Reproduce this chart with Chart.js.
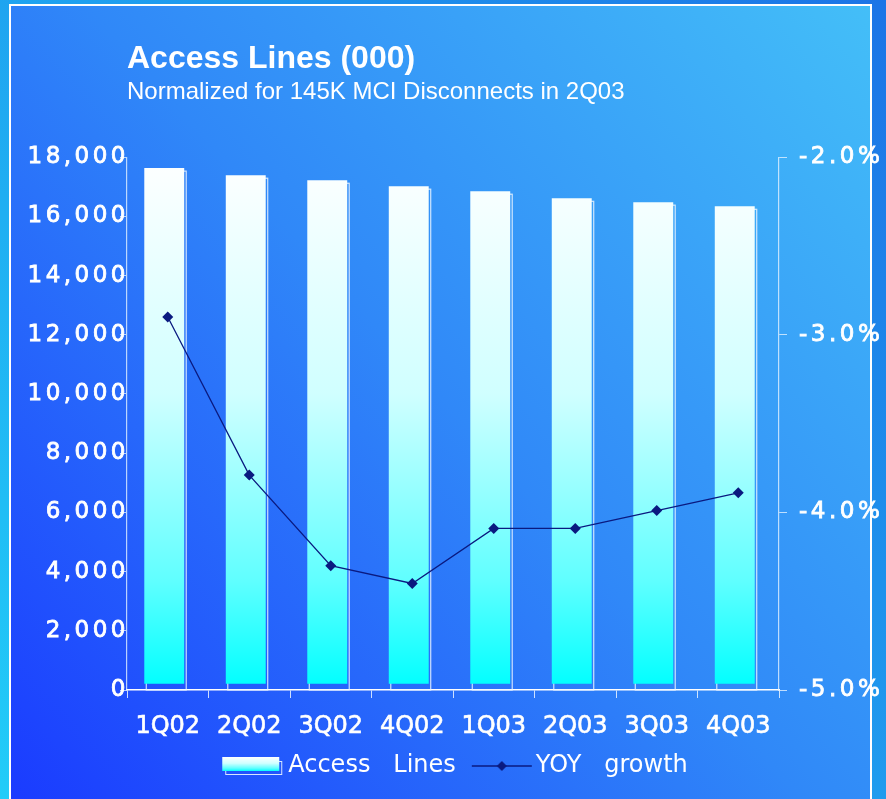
<!DOCTYPE html>
<html>
<head>
<meta charset="utf-8">
<script src="https://cdn.jsdelivr.net/npm/chart.js@4"></script>
<style>
  html, body { margin: 0; padding: 0; overflow: hidden; }
  #wrap { width: 886px; height: 799px; }
</style>
</head>
<body>
<div id="wrap"><canvas id="accessChart"></canvas></div>
<script>
const quarters = ['1Q02', '2Q02', '3Q02', '4Q02', '1Q03', '2Q03', '3Q03', '4Q03'];
const accessLines = [17530, 17290, 17120, 16920, 16750, 16510, 16380, 16240];
const yoyGrowth = [-2.90, -3.79, -4.30, -4.40, -4.09, -4.09, -3.99, -3.89];
const linesTicks = [0, 2000, 4000, 6000, 8000, 10000, 12000, 14000, 16000, 18000];
const growthTicks = [-5, -4, -3, -2];

Chart.defaults.font.family = 'DejaVu Sans';
Chart.defaults.color = '#ffffff';

function barGradient(ctx, top, bottom) {
  const g = ctx.createLinearGradient(0, top, 0, bottom);
  g.addColorStop(0, '#ffffff');
  g.addColorStop(0.45, '#d0ffff');
  g.addColorStop(0.8, '#60ffff');
  g.addColorStop(1, '#00ffff');
  return g;
}

// legend swatches (drawn off to the right of the box centre so text sits close)
function barSwatch() {
  const c = document.createElement('canvas');
  c.width = 78; c.height = 20;
  const x = c.getContext('2d');
  x.strokeStyle = 'rgba(235,245,255,0.9)';
  x.lineWidth = 1;
  x.strokeRect(17.5, 5.5, 56, 13);
  x.fillStyle = barGradient(x, 1, 15);
  x.fillRect(14, 1, 57, 14);
  return c;
}
function lineSwatch() {
  const c = document.createElement('canvas');
  c.width = 80; c.height = 16;
  const x = c.getContext('2d');
  x.strokeStyle = '#0a1a80';
  x.lineWidth = 1.3;
  x.beginPath(); x.moveTo(17, 8); x.lineTo(77, 8); x.stroke();
  x.fillStyle = '#0a1a80';
  x.beginPath(); x.moveTo(47, 3); x.lineTo(52, 8); x.lineTo(47, 13); x.lineTo(42, 8); x.closePath(); x.fill();
  return c;
}

function spaced(scale) {
  if (scale._spaced) return;
  const orig = scale.drawLabels;
  scale.drawLabels = function (area) {
    this.ctx.letterSpacing = '3.5px';
    orig.call(this, area);
    this.ctx.letterSpacing = '0px';
  };
  scale._spaced = true;
}

const backdrop = {
  id: 'backdrop',
  beforeDraw(chart) {
    const { ctx, width, height } = chart;
    ctx.save();
    let g = ctx.createLinearGradient(0, height, width, 0);
    g.addColorStop(0, '#22ccf8');
    g.addColorStop(1, '#1c74e6');
    ctx.fillStyle = g;
    ctx.fillRect(0, 0, width, height);
    ctx.strokeStyle = '#ffffff';
    ctx.lineWidth = 2;
    ctx.strokeRect(10, 5, 861, height + 20);
    g = ctx.createLinearGradient(0, height, width, 0);
    g.addColorStop(0, '#1a3aff');
    g.addColorStop(0.5, '#3088f8');
    g.addColorStop(1, '#44c0f8');
    ctx.fillStyle = g;
    ctx.fillRect(11, 6, 859, height);
    ctx.restore();
    ctx.letterSpacing = '0px';
  }
};

const barShadow = {
  id: 'barShadow',
  beforeDatasetDraw(chart, args) {
    if (args.meta.type !== 'bar') return;
    const ctx = chart.ctx;
    const base = chart.scales.y.getPixelForValue(0);
    ctx.save();
    ctx.strokeStyle = 'rgba(235,245,255,0.85)';
    ctx.lineWidth = 1.2;
    args.meta.data.forEach(bar => {
      ctx.strokeRect(bar.x - bar.width / 2 - 1.5, bar.y, bar.width, base - bar.y);
    });
    ctx.restore();
    ctx.save();
    ctx.translate(-3.5, -3);
  },
  afterDatasetDraw(chart, args) {
    if (args.meta.type === 'bar') chart.ctx.restore();
  }
};

const swatches = [barSwatch(), lineSwatch()];

new Chart(document.getElementById('accessChart'), {
  data: {
    labels: quarters,
    datasets: [
      {
        type: 'bar',
        label: 'Access Lines',
        data: accessLines,
        yAxisID: 'y',
        base: 110,
        order: 1,
        backgroundColor: c => {
          const a = c.chart.chartArea;
          if (!a) return '#ffffff';
          return barGradient(c.chart.ctx, a.top, a.bottom);
        },
        borderWidth: 0,
        categoryPercentage: 1,
        barPercentage: 0.49
      },
      {
        type: 'line',
        label: 'YOY growth',
        data: yoyGrowth,
        yAxisID: 'y1',
        order: 0,
        borderColor: '#0a1a80',
        backgroundColor: '#0a1a80',
        borderWidth: 1.3,
        pointStyle: 'rectRot',
        pointRadius: 5.5,
        pointBackgroundColor: '#0a1a80',
        pointBorderWidth: 0,
        tension: 0
      }
    ]
  },
  options: {
    responsive: true,
    maintainAspectRatio: false,
    animation: false,
    layout: { padding: { top: 0, bottom: 11, left: 0, right: 0 } },
    plugins: {
      tooltip: { enabled: false },
      title: {
        display: true,
        text: 'Access Lines (000)',
        align: 'start',
        fullSize: false,
        color: '#ffffff',
        font: { family: 'Liberation Sans', size: 32, weight: 'bold' },
        padding: { top: 40, bottom: 0 }
      },
      subtitle: {
        display: true,
        text: 'Normalized for 145K MCI Disconnects in 2Q03',
        align: 'start',
        fullSize: false,
        color: '#ffffff',
        font: { family: 'Liberation Sans', size: 24 },
        padding: { top: 0, bottom: 50 }
      },
      legend: {
        position: 'bottom',
        fullSize: false,
        labels: {
          color: '#ffffff',
          font: { family: 'DejaVu Sans', size: 24 },
          usePointStyle: true,
          pointStyleWidth: 58,
          padding: 10,
          generateLabels: chart => chart.data.datasets.map((ds, i) => ({
            text: ds.label.replace(' ', '   '),
            pointStyle: swatches[i],
            fillStyle: 'transparent',
            strokeStyle: 'transparent',
            lineWidth: 0,
            fontColor: '#ffffff',
            hidden: false,
            datasetIndex: i
          }))
        }
      }
    },
    scales: {
      x: {
        grid: {
          drawOnChartArea: false,
          offset: true,
          tickLength: 8,
          color: 'rgba(235,245,255,0.85)'
        },
        border: { color: '#ffffff', width: 1.5 },
        ticks: {
          color: '#ffffff',
          font: { family: 'DejaVu Sans', size: 24 },
          textStrokeColor: '#ffffff',
          textStrokeWidth: 0.6,
          padding: 14,
          maxRotation: 0
        },
        afterFit: s => { s.height = 54; }
      },
      y: {
        position: 'left',
        min: 0,
        max: 18000,
        afterBuildTicks: s => { s.ticks = linesTicks.map(v => ({ value: v })); },
        grid: {
          drawOnChartArea: false,
          tickLength: 7,
          color: 'rgba(225,240,255,0.8)'
        },
        border: { color: 'rgba(225,240,255,0.8)', width: 1.2 },
        ticks: {
          color: '#ffffff',
          font: { family: 'DejaVu Sans', size: 23 },
          textStrokeColor: '#ffffff',
          textStrokeWidth: 0.8,
          padding: -9,
          callback: v => v.toLocaleString('en-US')
        },
        afterFit: s => { s.width = 127; spaced(s); }
      },
      y1: {
        position: 'right',
        min: -5,
        max: -2,
        afterBuildTicks: s => { s.ticks = growthTicks.map(v => ({ value: v })); },
        grid: {
          drawOnChartArea: false,
          tickLength: 8,
          color: 'rgba(225,240,255,0.8)'
        },
        border: { color: 'rgba(225,240,255,0.8)', width: 1.2 },
        ticks: {
          color: '#ffffff',
          font: { family: 'DejaVu Sans', size: 23 },
          textStrokeColor: '#ffffff',
          textStrokeWidth: 0.8,
          padding: 12,
          callback: v => v.toFixed(1) + '%'
        },
        afterFit: s => { s.width = 107; spaced(s); }
      }
    }
  },
  plugins: [backdrop, barShadow]
});
</script>
</body>
</html>
